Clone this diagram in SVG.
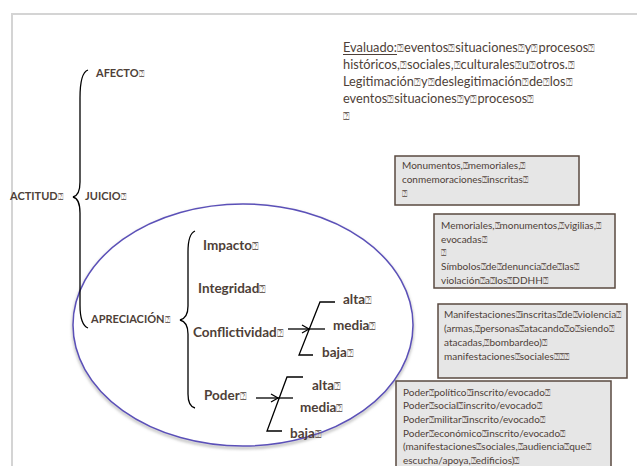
<svg xmlns="http://www.w3.org/2000/svg" width="637" height="466" viewBox="0 0 637 466">
<style>
.t{font-family:Lato,"Open Sans","DejaVu Sans",sans-serif;fill:#4e3f38}
.b{font-weight:bold}
.lbl{font-size:11px}
.sub{font-size:13.5px}
.ev{font-size:12.8px}
.bx{font-size:10px}
.q{font-size:85%;font-weight:normal;fill:#6e625c}
.box{fill:#e6e6e6;stroke:#5a4a40;stroke-width:1.5}
.ln{fill:none;stroke:#000;stroke-width:1.3}
</style>
<defs>
<marker id="ah" markerWidth="10" markerHeight="10" refX="8" refY="5" orient="auto" markerUnits="userSpaceOnUse">
<polyline points="1,1 8,5 1,9" fill="none" stroke="#000" stroke-width="1.3"/>
</marker>
<filter id="sh" x="-10%" y="-10%" width="120%" height="130%"><feGaussianBlur stdDeviation="1.5"/></filter>
</defs>
<g id="page"><path d="M12,466 L12,14 L637,14" fill="none" stroke="#d4d4d4" stroke-width="2"/></g>
<g id="ellipse">
<ellipse cx="243" cy="327" rx="170" ry="121" fill="none" stroke="#aaa" stroke-width="2" filter="url(#sh)"/>
<ellipse cx="243" cy="325" rx="170" ry="121" fill="#fff" stroke="#5b50b8" stroke-width="1.5"/>
</g>
<g id="connectors">
<path class="ln" d="M88,70 C82,72 80,82 80,98 L80,182 C80,192 77,196 73,197 C77,198 80,203 80,213 L80,305 C80,318 83,326 88,328"/>
<path class="ln" d="M195,231 C190,233 188,240 188,252 L188,306 C188,315 184,319 180,320 C184,321 188,325 188,334 L188,394 C188,403 191,407 195,408"/>
<line class="ln" x1="288" y1="329" x2="309" y2="329" marker-end="url(#ah)"/>
<polyline class="ln" points="335,302 320,302 299,355 313,355"/>
<line class="ln" x1="308" y1="329" x2="325" y2="329"/>
<line class="ln" x1="256" y1="398" x2="278" y2="398" marker-end="url(#ah)"/>
<polyline class="ln" points="303,377 287,377 267,431 282,431"/>
<line class="ln" x1="277" y1="398" x2="293" y2="398"/>
</g>
<g id="actitud"><text class="t b lbl" x="10" y="200">ACTITUD<tspan class="q">⍰</tspan></text></g>
<g id="afecto"><text class="t b lbl" x="96" y="77">AFECTO<tspan class="q">⍰</tspan></text></g>
<g id="juicio"><text class="t b lbl" x="85" y="200">JUICIO<tspan class="q">⍰</tspan></text></g>
<g id="apreciacion"><text class="t b lbl" x="91" y="323">APRECIACIÓN<tspan class="q">⍰</tspan></text></g>
<g id="impacto"><text class="t b sub" x="203" y="250">Impacto<tspan class="q">⍰</tspan></text></g>
<g id="integridad"><text class="t b sub" x="198" y="293">Integridad<tspan class="q">⍰</tspan></text></g>
<g id="conflictividad"><text class="t b sub" x="193" y="337">Conflictividad<tspan class="q">⍰</tspan></text></g>
<g id="c-alta"><text class="t b sub" x="343" y="304">alta<tspan class="q">⍰</tspan></text></g>
<g id="c-media"><text class="t b sub" x="333" y="330">media<tspan class="q">⍰</tspan></text></g>
<g id="c-baja"><text class="t b sub" x="322" y="357">baja<tspan class="q">⍰</tspan></text></g>
<g id="poder"><text class="t b sub" x="204" y="400">Poder<tspan class="q">⍰</tspan></text></g>
<g id="p-alta"><text class="t b sub" x="312" y="390">alta<tspan class="q">⍰</tspan></text></g>
<g id="p-media"><text class="t b sub" x="300" y="412">media<tspan class="q">⍰</tspan></text></g>
<g id="p-baja"><text class="t b sub" x="290" y="438">baja<tspan class="q">⍰</tspan></text></g>
<g id="evaluado">
<text class="t ev" x="343" y="52">Evaluado:<tspan class="q">⍰</tspan>eventos<tspan class="q">⍰</tspan>situaciones<tspan class="q">⍰</tspan>y<tspan class="q">⍰</tspan>procesos<tspan class="q">⍰</tspan></text>
<line x1="343" y1="54.5" x2="397" y2="54.5" stroke="#4e3f38" stroke-width="1"/>
<text class="t ev" x="343" y="69">históricos,<tspan class="q">⍰</tspan>sociales,<tspan class="q">⍰</tspan>culturales<tspan class="q">⍰</tspan>u<tspan class="q">⍰</tspan>otros.<tspan class="q">⍰</tspan></text>
<text class="t ev" x="343" y="86">Legitimación<tspan class="q">⍰</tspan>y<tspan class="q">⍰</tspan>deslegitimación<tspan class="q">⍰</tspan>de<tspan class="q">⍰</tspan>los<tspan class="q">⍰</tspan></text>
<text class="t ev" x="343" y="103">eventos<tspan class="q">⍰</tspan>situaciones<tspan class="q">⍰</tspan>y<tspan class="q">⍰</tspan>procesos<tspan class="q">⍰</tspan></text>
<text class="t ev" x="343" y="120"><tspan class="q">⍰</tspan></text>
</g>
<g id="box1">
<rect class="box" x="395" y="156" width="184" height="49"/>
<text class="t bx" x="402" y="169">Monumentos,<tspan class="q">⍰</tspan>memoriales,<tspan class="q">⍰</tspan></text>
<text class="t bx" x="402" y="183">conmemoraciones<tspan class="q">⍰</tspan>inscritas<tspan class="q">⍰</tspan></text>
<text class="t bx" x="402" y="197"><tspan class="q">⍰</tspan></text>
</g>
<g id="box2">
<rect class="box" x="434" y="214" width="181" height="74"/>
<text class="t bx" x="441" y="229">Memoriales,<tspan class="q">⍰</tspan>monumentos,<tspan class="q">⍰</tspan>vigilias,<tspan class="q">⍰</tspan></text>
<text class="t bx" x="441" y="243">evocadas<tspan class="q">⍰</tspan></text>
<text class="t bx" x="441" y="256"><tspan class="q">⍰</tspan></text>
<text class="t bx" x="441" y="270">Símbolos<tspan class="q">⍰</tspan>de<tspan class="q">⍰</tspan>denuncia<tspan class="q">⍰</tspan>de<tspan class="q">⍰</tspan>las<tspan class="q">⍰</tspan></text>
<text class="t bx" x="441" y="284">violación<tspan class="q">⍰</tspan>a<tspan class="q">⍰</tspan>los<tspan class="q">⍰</tspan>DDHH<tspan class="q">⍰</tspan></text>
</g>
<g id="box3">
<rect class="box" x="438" y="304" width="189" height="74"/>
<text class="t bx" x="444" y="318">Manifestaciones<tspan class="q">⍰</tspan>inscritas<tspan class="q">⍰</tspan>de<tspan class="q">⍰</tspan>violencia<tspan class="q">⍰</tspan></text>
<text class="t bx" x="444" y="332">(armas,<tspan class="q">⍰</tspan>personas<tspan class="q">⍰</tspan>atacando<tspan class="q">⍰</tspan>o<tspan class="q">⍰</tspan>siendo<tspan class="q">⍰</tspan></text>
<text class="t bx" x="444" y="346">atacadas,<tspan class="q">⍰</tspan>bombardeo)<tspan class="q">⍰</tspan></text>
<text class="t bx" x="444" y="360">manifestaciones<tspan class="q">⍰</tspan>sociales<tspan class="q">⍰⍰⍰</tspan></text>
</g>
<g id="box4">
<rect class="box" x="396" y="381" width="215" height="90"/>
<text class="t bx" x="403" y="396">Poder<tspan class="q">⍰</tspan>político<tspan class="q">⍰</tspan>inscrito/evocado<tspan class="q">⍰</tspan></text>
<text class="t bx" x="403" y="409">Poder<tspan class="q">⍰</tspan>social<tspan class="q">⍰</tspan>inscrito/evocado<tspan class="q">⍰</tspan></text>
<text class="t bx" x="403" y="423">Poder<tspan class="q">⍰</tspan>militar<tspan class="q">⍰</tspan>inscrito/evocado<tspan class="q">⍰</tspan></text>
<text class="t bx" x="403" y="437">Poder<tspan class="q">⍰</tspan>económico<tspan class="q">⍰</tspan>inscrito/evocado<tspan class="q">⍰</tspan></text>
<text class="t bx" x="403" y="450">(manifestaciones<tspan class="q">⍰</tspan>sociales,<tspan class="q">⍰</tspan>audiencia<tspan class="q">⍰</tspan>que<tspan class="q">⍰</tspan></text>
<text class="t bx" x="403" y="464">escucha/apoya,<tspan class="q">⍰</tspan>edificios)<tspan class="q">⍰</tspan></text>
</g>
</svg>
